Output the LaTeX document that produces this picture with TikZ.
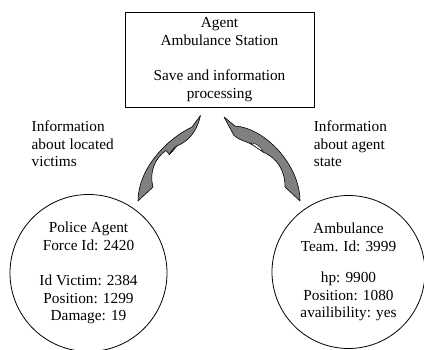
\documentclass[tikz,border=0pt]{standalone}
\usepackage{fontspec}
\setmainfont{Liberation Serif}
\begin{document}
\begin{tikzpicture}[x=1pt,y=-1pt,
  txt/.style={font=\fontsize{15.3}{17.6}\selectfont, inner sep=0pt},
  boxnode/.style={txt, draw, line width=0.8pt, align=center},
  agentcircle/.style={txt, draw, circle, line width=0.8pt, align=center},
  label/.style={txt, anchor=west, align=left},
  blockarrow/.style={fill=black!50, draw=black, line width=0.6pt, line join=round},
  slit/.style={fill=white, draw=black, line width=0.4pt}]
\useasboundingbox (0,0) rectangle (424,350);

\node[boxnode, minimum width=189pt, minimum height=95pt] (station) at (219.5,59.5)
  {Agent\\Ambulance Station\\[17.6pt]Save and information\\processing};

\node[agentcircle, minimum size=157pt] (police) at (88.5,273)
  {Police Agent\\Force Id: 2420\\[17.6pt]Id Victim: 2384\\Position: 1299\\Damage: 19};

\node[agentcircle, minimum size=153pt] (amb) at (348.5,272)
  {Ambulance\\Team. Id: 3999\\[14pt]hp: 9900\\Position: 1080\\availibility: yes};

\node[label] (lblL) at (31.5,143.8) {Information\\about located\\victims};
\node[label] (lblR) at (313.7,143.8) {Information\\about agent\\state};

% left curved arrow (police -> station)
\draw[blockarrow] (200.5,115.5) -- (192,127)
  .. controls (165,140) and (138,170) .. (138,201)
  -- (153,187)
  .. controls (149,172) and (155,158) .. (166,150.5)
  -- (169.5,154.5) -- (177,146)
  .. controls (189,141) and (197,131) .. (200.5,115.5) -- cycle;
\draw[slit] (169.5,154) .. controls (171,151) and (173,148.5) .. (176.5,146)
  .. controls (174,149.3) and (172,152) .. (169.5,154) -- cycle;

% right curved arrow (ambulance -> station)
\draw[blockarrow] (224,117) -- (235,126)
  .. controls (265,128) and (300,165) .. (300,201)
  -- (285,187)
  .. controls (285,170) and (277,158) .. (263,152)
  .. controls (257,148) and (253,145) .. (250,143.5)
  -- (239,139) -- (234,135.5) -- cycle;
\draw[slit] (250.5,143) .. controls (256,142.5) and (260,146.5) .. (263.5,152)
  .. controls (258.5,149) and (254.5,146) .. (250.5,143) -- cycle;
\end{tikzpicture}
\end{document}
